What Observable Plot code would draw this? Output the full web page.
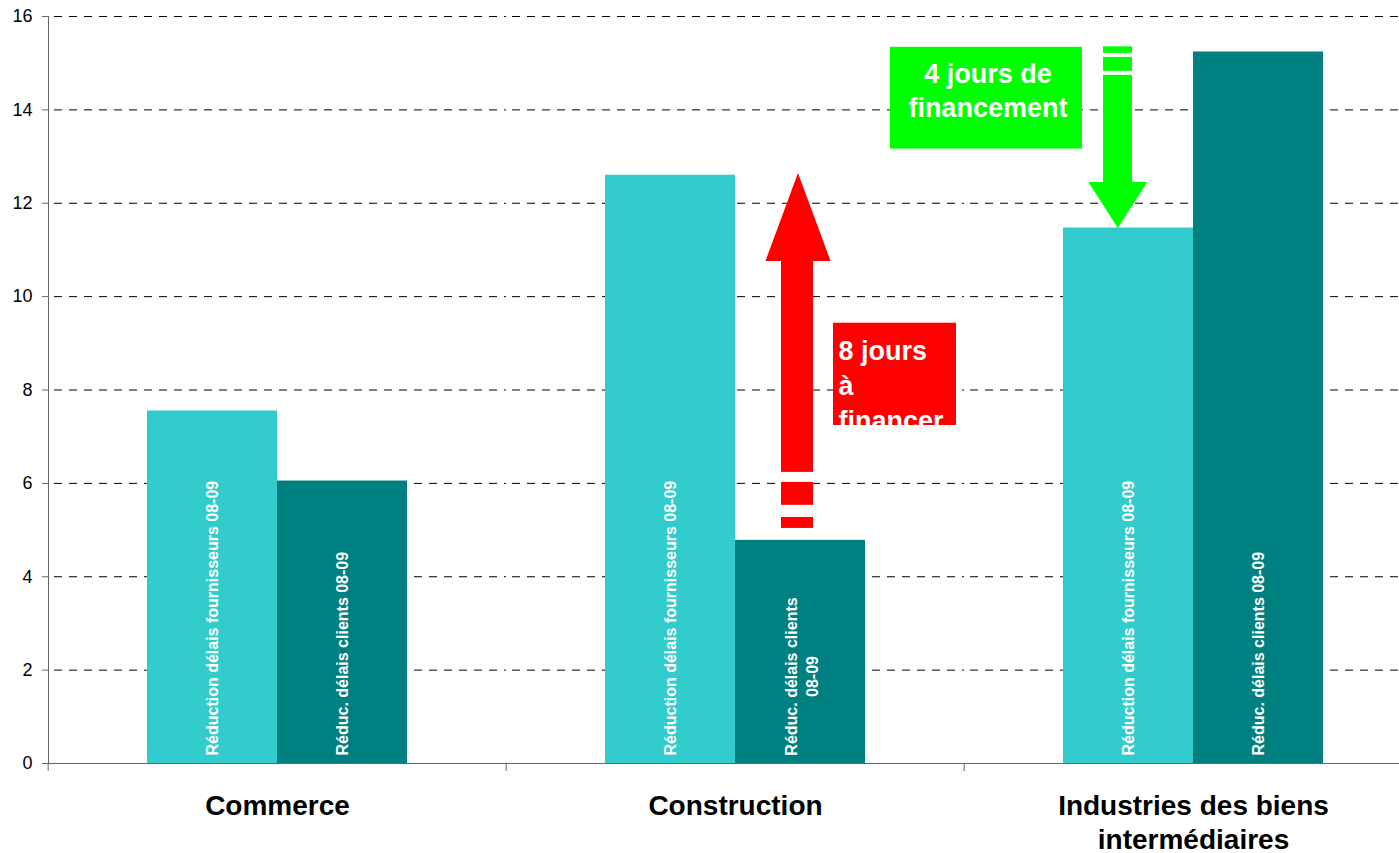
<!DOCTYPE html>
<html><head><meta charset="utf-8">
<script src="https://cdn.jsdelivr.net/npm/d3@7"></script>
<script src="https://cdn.jsdelivr.net/npm/@observablehq/plot@0.6"></script>
<style>
html,body{margin:0;padding:0;overflow:hidden;background:#fff;}
#chart svg{display:block;max-width:none !important;}
</style></head><body><div id="chart"></div>
<script>
// ---- data ----
const categories = ["Commerce", "Construction", "Industries des biens intermédiaires"];
const categoryLabels = ["Commerce", "Construction", "Industries des biens\nintermédiaires"];
const seriesKeys = ["fournisseurs", "clients"];
const fournisseursValues = [7.55, 12.6, 11.47];
const clientsValues = [6.05, 4.78, 15.24];
const fournisseursLabels = ["Réduction délais fournisseurs 08-09", "Réduction délais fournisseurs 08-09", "Réduction délais fournisseurs 08-09"];
const clientsLabels = ["Réduc. délais clients 08-09", "Réduc. délais clients\n08-09", "Réduc. délais clients 08-09"];
const yTicks = [0, 2, 4, 6, 8, 10, 12, 14, 16];
const seriesColors = ["#33CCCC", "#008080"];

// ---- annotations ----
const redArrowSegments = [[5.035, 5.27], [5.53, 6.02], [6.235, 10.8]];
const redArrowTip = 12.65;
const redNoteBox = [7.24, 9.43];
const redNoteText = "8 jours\nà\nfinancer";
const greenArrowSegments = [[15.21, 15.35], [14.825, 15.125], [12.43, 14.74]];
const greenArrowTip = 11.47;
const greenNoteBox = [13.16, 15.34];
const greenNoteText = "4 jours de\nfinancement";

// ---- tables ----
const bars = categories.flatMap((c, i) => [
  {category: c, series: seriesKeys[0], value: fournisseursValues[i], label: fournisseursLabels[i]},
  {category: c, series: seriesKeys[1], value: clientsValues[i], label: clientsLabels[i]}
]);
const labelMap = new Map(categories.map((c, i) => [c, categoryLabels[i]]));
const toSeg = (cat, ser) => ([a, b]) => ({category: cat, series: ser, y1: a, y2: b});
const redSegs = redArrowSegments.map(toSeg(categories[1], seriesKeys[1]));
const greenSegs = greenArrowSegments.map(toSeg(categories[2], seriesKeys[0]));

const W = 1423, H = 853, ML = 47, MR = 0, MT = 16, MB = 90;
const halfBand = (W - ML - MR) / categories.length / 2;
const font = "'Liberation Sans', Arial, sans-serif";

const triUp = {draw(ctx) { ctx.moveTo(0, 0); ctx.lineTo(32.5, 88); ctx.lineTo(-32.5, 88); ctx.closePath(); }};
const triDown = {draw(ctx) { ctx.moveTo(0, 0); ctx.lineTo(29.5, -46); ctx.lineTo(-29.5, -46); ctx.closePath(); }};

const chart = Plot.plot({
  width: W, height: H,
  marginLeft: ML, marginRight: MR, marginTop: MT, marginBottom: MB,
  style: {fontFamily: font, background: "white", color: "#000", maxWidth: "none"},
  fx: {domain: categories, padding: 0},
  x: {domain: seriesKeys, paddingInner: 0, paddingOuter: 0.75, axis: null},
  y: {domain: [0, 16]},
  color: {domain: seriesKeys, range: seriesColors},
  marks: [
    Plot.ruleY(yTicks.filter(t => t > 0), {stroke: "#000", strokeDasharray: "8,7", strokeDashoffset: 9}),
    Plot.barY(bars, {fx: "category", x: "series", y: "value", fill: "series"}),
    Plot.text(bars.filter(d => !d.label.includes("\n")), {
      fx: "category", x: "series", y: () => 0, text: "label", rotate: -90,
      textAnchor: "start", lineAnchor: "middle", dy: -8,
      fill: "white", fontSize: 16, fontWeight: "bold"
    }),
    Plot.text(bars.filter(d => d.label.includes("\n")), {
      fx: "category", x: "series", y: () => 0, text: "label", rotate: -90,
      textAnchor: "middle", lineAnchor: "middle", dy: -87, lineHeight: 1.35,
      fill: "white", fontSize: 16, fontWeight: "bold"
    }),
    Plot.ruleY([0], {stroke: "#666"}),
    Plot.frame({anchor: "left", facet: "super", stroke: "#666"}),
    Plot.axisY({ticks: yTicks, tickSize: 6, tickPadding: 10, fontSize: 18, label: null, stroke: "#666", fill: "#000"}),
    Plot.axisFx({anchor: "bottom", tickSize: 8, tickFormat: null, dx: -halfBand, label: null, stroke: "#666"}),
    Plot.axisFx({anchor: "bottom", tickSize: 0, tickPadding: 27, tickFormat: d => labelMap.get(d), fontSize: 28, fontWeight: "bold", lineHeight: 1.22, label: null, fill: "#000"}),
    // red annotation
    Plot.barY(redSegs, {fx: "category", x: "series", y1: "y1", y2: "y2", fill: "#FF0000", insetLeft: 46, insetRight: 52}),
    Plot.dot([{category: categories[1], series: seriesKeys[1], y: redArrowTip}], {fx: "category", x: "series", y: "y", symbol: triUp, fill: "#FF0000", stroke: "none", dx: -2.5}),
    Plot.barY([{category: categories[1], series: seriesKeys[1], y1: redNoteBox[0], y2: redNoteBox[1]}], {fx: "category", x: "series", y1: "y1", y2: "y2", fill: "#FF0000", insetLeft: 98, insetRight: -91}),
    Plot.text([{category: categories[1], series: seriesKeys[1], y: redNoteBox[1], text: redNoteText}], {fx: "category", x: "series", y: "y", text: "text", textAnchor: "start", lineAnchor: "top", dx: 38, dy: 12, lineHeight: 1.3, fill: "white", fontSize: 27, fontWeight: "bold"}),
    // green annotation
    Plot.barY(greenSegs, {fx: "category", x: "series", y1: "y1", y2: "y2", fill: "#00FF00", insetLeft: 40, insetRight: 61}),
    Plot.dot([{category: categories[2], series: seriesKeys[0], y: greenArrowTip}], {fx: "category", x: "series", y: "y", symbol: triDown, fill: "#00FF00", stroke: "none", dx: -10.6}),
    Plot.barY([{category: categories[2], series: seriesKeys[0], y1: greenNoteBox[0], y2: greenNoteBox[1]}], {fx: "category", x: "series", y1: "y1", y2: "y2", fill: "#00FF00", insetLeft: -173, insetRight: 111}),
    Plot.text([{category: categories[2], series: seriesKeys[0], y: greenNoteBox[1], text: greenNoteText}], {fx: "category", x: "series", y: "y", text: "text", textAnchor: "middle", lineAnchor: "top", dx: -140.6, dy: 12, lineHeight: 1.26, fill: "white", fontSize: 27, fontWeight: "bold"})
  ]
});
document.getElementById("chart").appendChild(chart);
</script></body></html>
